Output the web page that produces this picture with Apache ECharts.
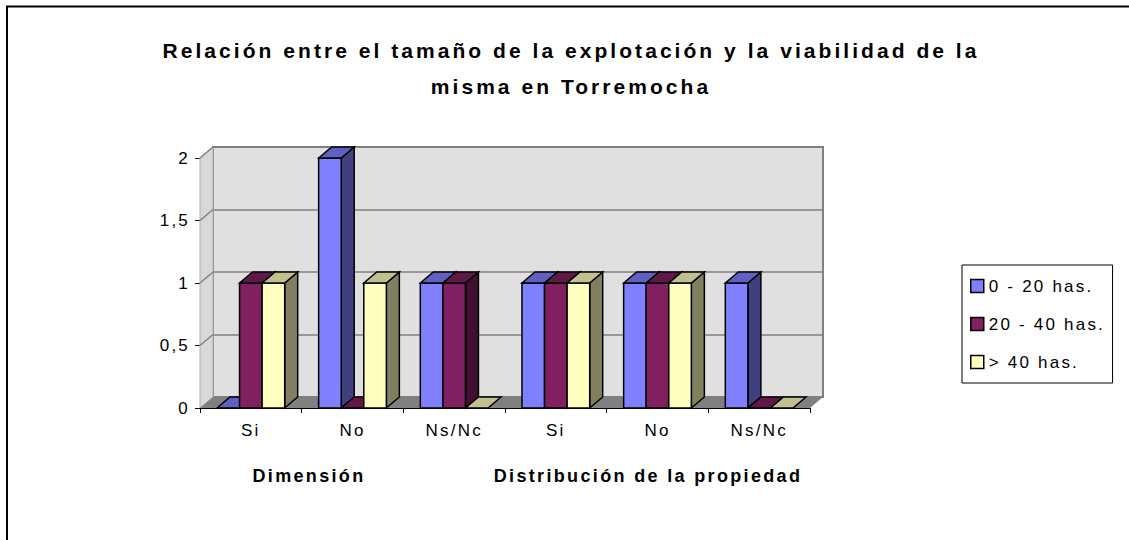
<!DOCTYPE html>
<html>
<head>
<meta charset="utf-8">
<title>Relación entre el tamaño de la explotación y la viabilidad</title>
<script src="https://cdn.jsdelivr.net/npm/echarts@6/dist/echarts.min.js"></script>
<style>
  html, body { margin: 0; padding: 0; background: #fff; }
  #main { width: 1129px; height: 540px; }
  /* el original tiene el texto algo espaciado */
  #main text { letter-spacing: 0.13em; }
  #main text[style*="21px"] { letter-spacing: 0.145em; }
</style>
</head>
<body>
<div id="main"></div>
<script>
// datos
var categorias = ['Si', 'No', 'Ns/Nc', 'Si', 'No', 'Ns/Nc'];
var grupos = ['Dimensión', 'Distribución de la propiedad'];
var nombres = ['0 - 20 has.', '20 - 40 has.', '> 40 has.'];
var serie1 = [0, 2, 1, 1, 1, 1];   // 0 - 20 has.
var serie2 = [1, 0, 1, 1, 1, 0];   // 20 - 40 has.
var serie3 = [1, 1, 0, 1, 1, 0];   // > 40 has.
var yTicks = [0, 0.5, 1, 1.5, 2];

var FUENTE = 'Liberation Sans, Arial, sans-serif';
// profundidad del efecto 3D
var DX = 13, DY = -11;
// [frente, tapa, lado]
var colores = [
    ['#8080ff', '#6060c0', '#404080'],
    ['#802060', '#601848', '#401030'],
    ['#ffffc0', '#c0c090', '#808060']
];

var myChart = echarts.init(document.getElementById('main'), null, { renderer: 'svg' });

function borde(fill) {
    return { fill: fill, stroke: '#000', lineWidth: 1.5, lineJoin: 'miter' };
}

// barra con frente, tapa y lado
function barra(offset, col) {
    return function (params, api) {
        var cat = api.value(0);
        var val = api.value(1);
        var band = api.size([1, 0])[0];
        var bw = band * 0.222;
        var base = api.coord([cat, 0]);
        var peak = api.coord([cat, val]);
        var x0 = base[0] + (offset - 0.5) * bw;
        var x1 = x0 + bw;
        var y0 = base[1];
        var y1 = peak[1];
        var hijos = [];
        if (y0 - y1 > 0.5) {
            hijos.push({
                type: 'polygon',
                shape: { points: [[x1, y1], [x1 + DX, y1 + DY], [x1 + DX, y0 + DY], [x1, y0]] },
                style: borde(col[2])
            });
            hijos.push({
                type: 'rect',
                shape: { x: x0, y: y1, width: bw, height: y0 - y1 },
                style: borde(col[0])
            });
        }
        hijos.push({
            type: 'polygon',
            shape: { points: [[x0, y1], [x0 + DX, y1 + DY], [x1 + DX, y1 + DY], [x1, y1]] },
            style: borde(col[1])
        });
        return { type: 'group', children: hijos };
    };
}

// suelo y pared izquierda
function paredes(params, api) {
    var band = api.size([1, 0])[0];
    var n = categorias.length;
    var a = api.coord([0, 0]);
    var xi = a[0] - band / 2;
    var yb = a[1];
    var xf = api.coord([n - 1, 0])[0] + band / 2;
    var yt = api.coord([0, yTicks[yTicks.length - 1]])[1];
    var hijos = [{
        type: 'polygon',
        shape: { points: [[xi, yb], [xi, yt], [xi + DX, yt + DY], [xi + DX, yb + DY]] },
        style: { fill: '#d8d8d8', stroke: '#b0b0b0', lineWidth: 1 }
    }, {
        type: 'polygon',
        shape: { points: [[xi, yb], [xf, yb], [xf + DX, yb + DY], [xi + DX, yb + DY]] },
        style: { fill: '#808080' }
    }];
    for (var i = 1; i < yTicks.length; i++) {
        var y = api.coord([0, yTicks[i]])[1];
        hijos.push({
            type: 'line',
            shape: { x1: xi, y1: y, x2: xi + DX, y2: y + DY },
            style: { stroke: '#808080', lineWidth: 1.5 }
        });
    }
    return { type: 'group', children: hijos };
}

function puntos(arr) {
    return arr.map(function (v, i) { return [i, v]; });
}

var option = {
    animation: false,
    backgroundColor: '#fff',
    graphic: [
        {
            type: 'rect',
            shape: { x: 7, y: 6.5, width: 1150, height: 560 },
            style: { fill: 'none', stroke: '#000', lineWidth: 2 }
        },
        {
            type: 'text', x: 571, y: 32,
            style: {
                text: 'Relación entre el tamaño de la explotación y la viabilidad de la\nmisma en Torremocha',
                textAlign: 'center', textVerticalAlign: 'top', lineHeight: 36,
                fontSize: 21, fontWeight: 'bold', fontFamily: FUENTE, fill: '#000'
            }
        },
        {
            type: 'text', x: 309, y: 476,
            style: {
                text: grupos[0], textAlign: 'center', textVerticalAlign: 'middle',
                fontSize: 18, fontWeight: 'bold', fontFamily: FUENTE, fill: '#000'
            }
        },
        {
            type: 'text', x: 648, y: 476,
            style: {
                text: grupos[1], textAlign: 'center', textVerticalAlign: 'middle',
                fontSize: 18, fontWeight: 'bold', fontFamily: FUENTE, fill: '#000'
            }
        }
    ],
    legend: {
        orient: 'vertical',
        left: 962,
        top: 265,
        data: nombres,
        icon: 'rect',
        itemWidth: 13,
        itemHeight: 13,
        itemGap: 20,
        padding: [12, 34, 12, 8],
        backgroundColor: '#fff',
        borderColor: '#000',
        borderWidth: 1,
        itemStyle: { borderColor: '#000', borderWidth: 1.5 },
        textStyle: { fontSize: 17, lineHeight: 18, color: '#000', fontFamily: FUENTE }
    },
    grid: [
        { left: 200, right: 319, top: 158, bottom: 132 },
        {
            left: 200 + DX, right: 319 - DX, top: 158 + DY, bottom: 132 - DY,
            show: true, backgroundColor: '#e0e0e0', borderColor: '#808080', borderWidth: 2
        }
    ],
    xAxis: [
        {
            type: 'category', gridIndex: 0, data: categorias,
            axisLine: { lineStyle: { color: '#000', width: 1 } },
            axisTick: { show: true, length: 5, lineStyle: { color: '#000' } },
            axisLabel: { fontSize: 17, color: '#000', fontFamily: FUENTE, margin: 14 }
        },
        { type: 'category', gridIndex: 1, data: categorias, show: false }
    ],
    yAxis: [
        {
            type: 'value', gridIndex: 0,
            min: yTicks[0], max: yTicks[yTicks.length - 1], interval: yTicks[1] - yTicks[0],
            axisLine: { show: true, lineStyle: { color: '#404040', width: 1 } },
            axisTick: { show: true, length: 5, lineStyle: { color: '#000' } },
            splitLine: { show: false },
            axisLabel: {
                fontSize: 17, color: '#000', fontFamily: FUENTE, margin: 10,
                formatter: function (v) { return String(v).replace('.', ','); }
            }
        },
        {
            type: 'value', gridIndex: 1,
            min: yTicks[0], max: yTicks[yTicks.length - 1], interval: yTicks[1] - yTicks[0],
            axisLine: { show: false }, axisTick: { show: false }, axisLabel: { show: false },
            splitLine: { show: true, lineStyle: { color: '#808080', width: 1.5 } }
        }
    ],
    series: [
        {
            type: 'custom', name: 'paredes', silent: true,
            xAxisIndex: 0, yAxisIndex: 0,
            data: [[0, 0]],
            renderItem: paredes
        },
        {
            type: 'custom', name: nombres[0], xAxisIndex: 0, yAxisIndex: 0,
            itemStyle: { color: colores[0][0] },
            data: puntos(serie1), renderItem: barra(-1, colores[0])
        },
        {
            type: 'custom', name: nombres[1], xAxisIndex: 0, yAxisIndex: 0,
            itemStyle: { color: colores[1][0] },
            data: puntos(serie2), renderItem: barra(0, colores[1])
        },
        {
            type: 'custom', name: nombres[2], xAxisIndex: 0, yAxisIndex: 0,
            itemStyle: { color: colores[2][0] },
            data: puntos(serie3), renderItem: barra(1, colores[2])
        }
    ]
};

myChart.setOption(option, true);
window.onresize = myChart.resize;
</script>
</body>
</html>
